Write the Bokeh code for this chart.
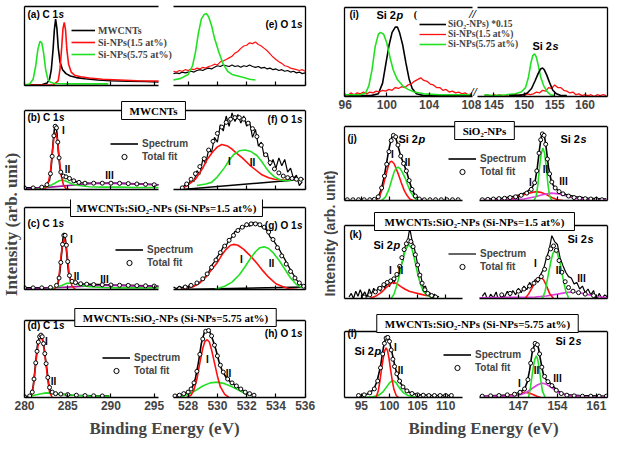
import math
from bokeh.plotting import figure
from bokeh.models import Range1d, LinearAxis, FixedTicker, Label, Legend, LegendItem, Span
from bokeh.layouts import row, column
from bokeh.embed import file_html
from bokeh.resources import INLINE
from bokeh.core.properties import value

# ------------------------------------------------------------------ data
C1S_TICKS = [280, 285, 290, 295]
O1S_TICKS = [528, 530, 532, 534, 536]
SI2P_TICKS_I = [96, 100, 104, 108]
SI2S_TICKS_I = [145, 150, 155, 160]
SI2P_TICKS = [95, 100, 105, 110]
SI2S_TICKS = [147, 154, 161]

# (a) C 1s comparison
A_MW_X = [280.0, 282.0, 282.6, 282.9, 283.1, 283.3, 283.45, 283.6, 283.75, 283.9, 284.1, 284.4, 284.8, 285.3, 286.0, 287.0, 288.5, 290.0, 292.0, 294.0, 295.5]
A_MW_Y = [0.01, 0.01, 0.03, 0.08, 0.2, 0.45, 0.7, 0.84, 0.72, 0.48, 0.3, 0.2, 0.15, 0.12, 0.1, 0.085, 0.07, 0.06, 0.055, 0.05, 0.045]
A_S15_X = [280.0, 283.4, 283.9, 284.1, 284.3, 284.45, 284.6, 284.75, 284.9, 285.1, 285.4, 285.8, 286.5, 287.5, 289.0, 291.0, 293.0, 295.5]
A_S15_Y = [0.005, 0.01, 0.06, 0.2, 0.48, 0.72, 0.8, 0.7, 0.45, 0.27, 0.17, 0.13, 0.11, 0.095, 0.08, 0.07, 0.06, 0.055]
A_S575_X = [280.0, 280.6, 281.0, 281.3, 281.55, 281.8, 282.0, 282.2, 282.45, 282.7, 283.0, 283.5, 285.0, 287.5, 289.7]
A_S575_Y = [0.01, 0.02, 0.08, 0.25, 0.46, 0.56, 0.54, 0.42, 0.2, 0.08, 0.04, 0.025, 0.02, 0.02, 0.02]

# (e) O 1s comparison
O_GRID = [527.0, 527.2, 527.4, 527.6, 527.8, 528.0, 528.2, 528.4, 528.6, 528.8, 529.0, 529.2, 529.4, 529.6, 529.8,
          530.0, 530.2, 530.4, 530.6, 530.8, 531.0, 531.2, 531.4, 531.6, 531.8, 532.0, 532.2, 532.4, 532.6, 532.8,
          533.0, 533.2, 533.4, 533.6, 533.8, 534.0, 534.2, 534.4, 534.6, 534.8, 535.0, 535.2, 535.4, 535.6, 535.8, 536.0]
E_MW_Y = [0.15, 0.16, 0.15, 0.17, 0.16, 0.17, 0.18, 0.17, 0.19, 0.2, 0.19, 0.21, 0.22, 0.21, 0.23,
          0.25, 0.24, 0.26, 0.25, 0.24, 0.26, 0.24, 0.25, 0.23, 0.25, 0.24, 0.26, 0.24, 0.23, 0.24,
          0.22, 0.23, 0.21, 0.22, 0.2, 0.21, 0.19, 0.2, 0.18, 0.19, 0.17, 0.18, 0.16, 0.17, 0.15, 0.16]
E_S15_Y = [0.18, 0.17, 0.19, 0.18, 0.2, 0.19, 0.21, 0.2, 0.22, 0.21, 0.23, 0.22, 0.24, 0.25, 0.27,
           0.26, 0.3, 0.31, 0.33, 0.35, 0.37, 0.41, 0.43, 0.47, 0.5, 0.51, 0.54, 0.53, 0.55, 0.52,
           0.5, 0.47, 0.44, 0.4, 0.36, 0.33, 0.3, 0.28, 0.25, 0.24, 0.22, 0.21, 0.2, 0.19, 0.2, 0.18]
E_S575_X = [527.0, 527.5, 528.0, 528.3, 528.5, 528.7, 528.9, 529.1, 529.25, 529.4, 529.6, 529.8, 530.1, 530.4, 530.7, 531.0, 531.4, 531.8, 532.2, 532.6]
E_S575_Y = [0.07, 0.09, 0.14, 0.25, 0.42, 0.66, 0.84, 0.9, 0.91, 0.87, 0.76, 0.6, 0.42, 0.27, 0.18, 0.14, 0.12, 0.1, 0.08, 0.07]

# (b) MWCNTs C 1s
B_SPEC_X = [280.0, 281.5, 282.4, 282.9, 283.1, 283.3, 283.45, 283.6, 283.75, 283.9, 284.1, 284.4, 284.7, 285.0, 285.4, 285.9, 286.5, 287.5, 289.0, 290.5, 292.0, 293.5, 295.5]
B_SPEC_Y = [0.02, 0.02, 0.04, 0.12, 0.3, 0.58, 0.76, 0.82, 0.72, 0.5, 0.27, 0.17, 0.16, 0.15, 0.13, 0.1, 0.085, 0.08, 0.08, 0.08, 0.075, 0.07, 0.06]
B_FIT_X = [280.0, 281.0, 282.0, 282.6, 283.0, 283.2, 283.4, 283.55, 283.7, 283.85, 284.0, 284.2, 284.5, 284.8, 285.2, 285.7, 286.3, 287.0, 288.0, 289.0, 290.0, 291.0, 292.0, 293.0, 294.0, 295.0]
B_FIT_Y = [0.02, 0.02, 0.03, 0.06, 0.2, 0.42, 0.68, 0.8, 0.78, 0.6, 0.4, 0.22, 0.17, 0.16, 0.14, 0.11, 0.09, 0.08, 0.08, 0.08, 0.08, 0.078, 0.075, 0.07, 0.065, 0.06]
B_I_X = [282.3, 282.7, 283.0, 283.2, 283.4, 283.6, 283.8, 284.0, 284.2, 284.5, 284.8, 285.2]
B_I_Y = [0.0, 0.06, 0.22, 0.45, 0.66, 0.72, 0.64, 0.42, 0.2, 0.06, 0.01, 0.0]
B_II_X = [281.0, 282.0, 282.8, 283.5, 284.0, 284.4, 284.9, 285.5, 286.3, 287.5, 289.0, 291.0, 293.0, 295.5]
B_II_Y = [0.0, 0.01, 0.04, 0.08, 0.11, 0.12, 0.1, 0.07, 0.05, 0.035, 0.03, 0.03, 0.025, 0.025]
B_III_X = [280.0, 282.0, 284.0, 286.0, 288.0, 289.5, 291.0, 293.0, 295.5]
B_III_Y = [0.005, 0.02, 0.04, 0.06, 0.075, 0.08, 0.078, 0.07, 0.06]

# (f) MWCNTs O 1s
F_GRID = [527.6, 527.8, 528.0, 528.2, 528.4, 528.6, 528.8, 529.0, 529.2, 529.4, 529.6, 529.8, 530.0, 530.2,
          530.4, 530.6, 530.8, 531.0, 531.2, 531.4, 531.6, 531.8, 532.0, 532.2, 532.4, 532.6, 532.8, 533.0,
          533.2, 533.4, 533.6, 533.8, 534.0, 534.2, 534.4, 534.6, 534.8, 535.0, 535.2, 535.4, 535.6, 535.8]
F_SPEC_Y = [0.02, 0.06, 0.05, 0.14, 0.1, 0.24, 0.19, 0.38, 0.33, 0.5, 0.47, 0.66, 0.6, 0.82,
            0.74, 0.93, 0.8, 0.97, 0.86, 0.95, 0.84, 0.93, 0.8, 0.86, 0.66, 0.76, 0.55, 0.6,
            0.42, 0.46, 0.3, 0.38, 0.27, 0.4, 0.3, 0.38, 0.22, 0.27, 0.14, 0.18, 0.05, 0.1]
F_FIT_X = [527.6, 527.9, 528.2, 528.5, 528.8, 529.1, 529.4, 529.7, 530.0, 530.3, 530.6, 530.9, 531.2, 531.5,
           531.8, 532.1, 532.4, 532.7, 533.0, 533.3, 533.6, 533.9, 534.2, 534.5, 534.8, 535.1, 535.4, 535.7]
F_FIT_Y = [0.02, 0.07, 0.13, 0.2, 0.29, 0.39, 0.5, 0.61, 0.71, 0.79, 0.85, 0.89, 0.91, 0.91,
           0.89, 0.84, 0.77, 0.67, 0.56, 0.44, 0.34, 0.26, 0.21, 0.17, 0.15, 0.14, 0.13, 0.13]
F_I_X = [527.6, 528.0, 528.5, 529.0, 529.3, 529.7, 530.0, 530.3, 530.7, 531.0, 531.3, 531.7, 532.2, 532.6, 533.0, 533.5, 533.9, 534.5, 535.0, 535.6]
F_I_Y = [0.01, 0.06, 0.13, 0.27, 0.38, 0.48, 0.54, 0.57, 0.55, 0.51, 0.46, 0.4, 0.31, 0.25, 0.19, 0.15, 0.13, 0.12, 0.12, 0.12]
F_II_X = [528.6, 529.2, 529.6, 530.0, 530.5, 530.8, 531.1, 531.5, 531.9, 532.3, 532.7, 533.0, 533.3, 533.6, 533.9, 534.3, 534.8, 535.2, 535.6]
F_II_Y = [0.05, 0.07, 0.09, 0.16, 0.28, 0.37, 0.44, 0.49, 0.5, 0.48, 0.43, 0.36, 0.28, 0.21, 0.16, 0.12, 0.11, 0.12, 0.125]
F_BG_X = [527.6, 535.9]
F_BG_Y = [0.0, 0.13]

# (c) Si-NPs 1.5 at% C 1s
C_SPEC_X = [280.0, 282.0, 283.5, 283.9, 284.1, 284.3, 284.45, 284.6, 284.75, 284.9, 285.1, 285.35, 285.7, 286.2, 287.0, 288.5, 290.0, 292.0, 294.0, 295.5]
C_SPEC_Y = [0.02, 0.02, 0.025, 0.08, 0.22, 0.45, 0.62, 0.69, 0.6, 0.42, 0.2, 0.11, 0.09, 0.075, 0.065, 0.06, 0.055, 0.05, 0.045, 0.04]
C_FIT_X = [280.0, 281.0, 282.0, 283.0, 283.7, 284.0, 284.2, 284.4, 284.55, 284.7, 284.85, 285.0, 285.2, 285.5, 285.9, 286.5, 287.2, 288.0, 289.0, 290.0, 291.0, 292.0, 293.0, 294.0, 295.0]
C_FIT_Y = [0.02, 0.02, 0.02, 0.025, 0.05, 0.14, 0.33, 0.55, 0.66, 0.66, 0.54, 0.34, 0.17, 0.1, 0.085, 0.07, 0.065, 0.06, 0.058, 0.055, 0.052, 0.05, 0.047, 0.045, 0.042]
C_I_X = [283.4, 283.8, 284.0, 284.2, 284.4, 284.6, 284.8, 285.0, 285.2, 285.5, 285.9]
C_I_Y = [0.0, 0.05, 0.17, 0.38, 0.56, 0.62, 0.55, 0.36, 0.16, 0.04, 0.0]
C_II_X = [282.5, 283.5, 284.3, 284.9, 285.4, 285.9, 286.5, 287.5, 289.0, 291.0, 293.0, 295.5]
C_II_Y = [0.0, 0.02, 0.05, 0.075, 0.08, 0.07, 0.05, 0.035, 0.025, 0.02, 0.02, 0.02]
C_III_X = [280.0, 282.0, 284.0, 286.0, 288.0, 289.5, 291.0, 293.0, 295.5]
C_III_Y = [0.005, 0.015, 0.025, 0.035, 0.045, 0.05, 0.048, 0.042, 0.035]

# (g) Si-NPs 1.5 at% O 1s
G_SPEC_Y = [0.03, 0.01, 0.04, 0.02, 0.05, 0.03, 0.06, 0.04, 0.08, 0.09, 0.13, 0.16, 0.21, 0.29, 0.34,
            0.4, 0.45, 0.52, 0.54, 0.6, 0.64, 0.71, 0.7, 0.76, 0.75, 0.81, 0.77, 0.82, 0.8, 0.81,
            0.77, 0.75, 0.72, 0.64, 0.61, 0.55, 0.5, 0.43, 0.37, 0.3, 0.24, 0.18, 0.12, 0.08, 0.05, 0.04]
G_FIT_X = [527.4, 527.8, 528.2, 528.6, 529.0, 529.3, 529.6, 529.9, 530.2, 530.5, 530.8, 531.1, 531.4, 531.7,
           532.0, 532.3, 532.6, 532.9, 533.2, 533.5, 533.8, 534.1, 534.4, 534.7, 535.0, 535.3, 535.6, 535.9]
G_FIT_Y = [0.01, 0.03, 0.05, 0.08, 0.13, 0.19, 0.27, 0.36, 0.45, 0.53, 0.6, 0.66, 0.72, 0.76,
           0.79, 0.8, 0.8, 0.79, 0.76, 0.7, 0.61, 0.51, 0.41, 0.31, 0.22, 0.14, 0.08, 0.04]
G_I_X = [527.5, 528.3, 528.8, 529.2, 529.6, 530.0, 530.3, 530.6, 530.9, 531.1, 531.4, 531.8, 532.2, 532.7, 533.1, 533.5, 534.0, 534.4, 534.9, 535.5]
G_I_Y = [0.0, 0.03, 0.08, 0.15, 0.24, 0.33, 0.42, 0.49, 0.54, 0.55, 0.54, 0.49, 0.42, 0.32, 0.23, 0.15, 0.07, 0.04, 0.01, 0.0]
G_II_X = [529.8, 530.5, 531.0, 531.5, 531.9, 532.3, 532.6, 532.9, 533.2, 533.5, 533.8, 534.2, 534.6, 535.0, 535.4, 535.8]
G_II_Y = [0.0, 0.04, 0.09, 0.18, 0.28, 0.39, 0.46, 0.51, 0.52, 0.5, 0.45, 0.36, 0.25, 0.14, 0.06, 0.02]
G_BG_X = [527.4, 536.0]
G_BG_Y = [0.0, 0.03]

# (d) Si-NPs 5.75 at% C 1s
D_SPEC_X = [280.0, 280.5, 280.8, 281.0, 281.2, 281.35, 281.5, 281.7, 281.9, 282.1, 282.3, 282.45, 282.6, 282.8, 283.0, 283.3, 283.8, 284.5, 285.5, 287.0, 288.5, 289.8]
D_SPEC_Y = [0.01, 0.015, 0.04, 0.14, 0.35, 0.52, 0.68, 0.78, 0.8, 0.75, 0.62, 0.48, 0.36, 0.18, 0.09, 0.055, 0.045, 0.04, 0.03, 0.025, 0.02, 0.02]
D_FIT_X = [280.0, 280.6, 280.9, 281.1, 281.3, 281.45, 281.6, 281.75, 281.9, 282.05, 282.2, 282.35, 282.5, 282.7, 282.9, 283.2, 283.6, 284.2, 285.0, 286.0, 287.0, 288.0, 289.0]
D_FIT_Y = [0.01, 0.02, 0.07, 0.24, 0.45, 0.6, 0.72, 0.79, 0.81, 0.79, 0.7, 0.57, 0.44, 0.26, 0.13, 0.07, 0.05, 0.045, 0.038, 0.03, 0.025, 0.022, 0.02]
D_I_X = [280.5, 280.8, 281.0, 281.2, 281.4, 281.6, 281.8, 281.95, 282.1, 282.3, 282.5, 282.7, 282.9, 283.2]
D_I_Y = [0.0, 0.03, 0.12, 0.32, 0.54, 0.7, 0.77, 0.78, 0.74, 0.6, 0.42, 0.22, 0.07, 0.0]
D_II_X = [280.3, 281.0, 281.8, 282.5, 283.2, 284.0, 285.0, 286.0, 287.5, 289.8]
D_II_Y = [0.0, 0.025, 0.045, 0.06, 0.055, 0.045, 0.035, 0.025, 0.02, 0.015]

# (h) Si-NPs 5.75 at% O 1s
H_SPEC_X = [527.0, 527.5, 528.0, 528.3, 528.5, 528.7, 528.9, 529.1, 529.3, 529.5, 529.7, 529.9, 530.1, 530.3, 530.6, 530.9, 531.2, 531.5, 531.9, 532.3, 532.6]
H_SPEC_Y = [0.02, 0.03, 0.07, 0.14, 0.25, 0.45, 0.7, 0.84, 0.88, 0.84, 0.74, 0.62, 0.47, 0.36, 0.26, 0.2, 0.16, 0.12, 0.07, 0.04, 0.02]
H_FIT_X = [527.1, 527.4, 527.7, 528.0, 528.2, 528.4, 528.6, 528.8, 529.0, 529.2, 529.4, 529.6, 529.8, 530.0, 530.2, 530.4, 530.7, 531.0, 531.3, 531.6, 531.9, 532.2, 532.5]
H_FIT_Y = [0.02, 0.03, 0.05, 0.07, 0.11, 0.19, 0.34, 0.56, 0.76, 0.86, 0.87, 0.8, 0.68, 0.54, 0.42, 0.33, 0.24, 0.19, 0.15, 0.11, 0.07, 0.05, 0.03]
H_I_X = [527.9, 528.2, 528.4, 528.6, 528.8, 529.0, 529.15, 529.3, 529.45, 529.6, 529.8, 530.0, 530.2, 530.5, 530.8]
H_I_Y = [0.0, 0.03, 0.1, 0.24, 0.45, 0.64, 0.73, 0.75, 0.72, 0.62, 0.45, 0.28, 0.14, 0.04, 0.0]
H_II_X = [527.4, 528.0, 528.5, 529.0, 529.5, 530.0, 530.5, 531.0, 531.5, 532.0, 532.6]
H_II_Y = [0.0, 0.04, 0.09, 0.15, 0.19, 0.2, 0.18, 0.14, 0.09, 0.04, 0.01]

# (i) Si 2p / Si 2s comparison
I2P_MW_X = [96.0, 98.5, 99.2, 99.6, 99.9, 100.2, 100.5, 100.8, 101.0, 101.2, 101.5, 101.8, 102.1, 102.4, 102.8, 103.5, 105.0, 108.0]
I2P_MW_Y = [0.01, 0.01, 0.03, 0.15, 0.36, 0.57, 0.72, 0.78, 0.78, 0.72, 0.58, 0.38, 0.2, 0.09, 0.03, 0.01, 0.01, 0.01]
I2P_S575_X = [96.0, 97.5, 98.0, 98.3, 98.6, 98.9, 99.2, 99.4, 99.7, 100.0, 100.3, 100.6, 101.0, 101.5, 102.0, 102.6, 103.5, 105.0, 108.0]
I2P_S575_Y = [0.02, 0.02, 0.04, 0.12, 0.3, 0.56, 0.7, 0.72, 0.7, 0.6, 0.44, 0.3, 0.19, 0.12, 0.08, 0.05, 0.03, 0.02, 0.02]
I2P_GRID = [96.0, 96.3, 96.6, 96.9, 97.2, 97.5, 97.8, 98.1, 98.4, 98.7, 99.0, 99.3, 99.6, 99.9, 100.2, 100.5, 100.8,
            101.1, 101.4, 101.7, 102.0, 102.3, 102.6, 102.9, 103.2, 103.5, 103.8, 104.1, 104.4, 104.7, 105.0,
            105.3, 105.6, 105.9, 106.2, 106.5, 106.8, 107.1, 107.4, 107.7, 108.0]
I2P_S15_Y = [0.03, 0.01, 0.04, 0.02, 0.04, 0.03, 0.05, 0.03, 0.05, 0.04, 0.06, 0.05, 0.07, 0.06, 0.08, 0.07, 0.1,
             0.09, 0.11, 0.1, 0.13, 0.14, 0.17, 0.19, 0.21, 0.18, 0.17, 0.14, 0.13, 0.1, 0.1,
             0.07, 0.08, 0.05, 0.06, 0.04, 0.05, 0.03, 0.04, 0.02, 0.03]
I2S_MW_X = [147.5, 149.5, 150.5, 151.2, 151.8, 152.3, 152.7, 153.0, 153.3, 153.7, 154.2, 154.7, 155.3, 156.0, 157.0]
I2S_MW_Y = [0.01, 0.015, 0.04, 0.09, 0.18, 0.26, 0.31, 0.32, 0.3, 0.24, 0.15, 0.07, 0.03, 0.01, 0.01]
I2S_S575_X = [143.4, 145.0, 147.0, 148.5, 149.5, 150.2, 150.7, 151.1, 151.4, 151.7, 152.0, 152.3, 152.7, 153.2, 153.7, 154.3, 155.0]
I2S_S575_Y = [0.02, 0.01, 0.02, 0.03, 0.05, 0.1, 0.22, 0.38, 0.46, 0.48, 0.44, 0.35, 0.22, 0.12, 0.06, 0.02, 0.01]
I2S_GRID = [143.5, 144.0, 144.5, 145.0, 145.5, 146.0, 146.5, 147.0, 147.5, 148.0, 148.5, 149.0, 149.5, 150.0,
            150.5, 151.0, 151.5, 152.0, 152.5, 153.0, 153.5, 154.0, 154.5, 155.0, 155.5, 156.0, 156.5, 157.0,
            157.5, 158.0, 158.5, 159.0, 159.5, 160.0, 160.5, 161.0, 161.5, 162.0, 162.5, 163.0, 163.5]
I2S_S15_Y = [0.01, 0.02, 0.0, 0.02, 0.01, 0.02, 0.0, 0.01, 0.02, 0.01, 0.02, 0.01, 0.02, 0.01,
             0.03, 0.02, 0.03, 0.05, 0.04, 0.07, 0.06, 0.1, 0.09, 0.13, 0.1, 0.1, 0.07, 0.06,
             0.04, 0.05, 0.02, 0.03, 0.01, 0.02, 0.01, 0.02, 0.0, 0.02, 0.01, 0.02, 0.01]

# (j) SiO2-NPs
J2P_SPEC_X = [97.0, 97.5, 98.0, 98.5, 99.0, 99.4, 99.8, 100.2, 100.5, 100.8, 101.1, 101.5, 102.0, 102.5, 103.0, 103.5, 104.0, 104.6, 105.2, 106.0]
J2P_SPEC_Y = [0.01, 0.02, 0.05, 0.14, 0.3, 0.47, 0.65, 0.8, 0.87, 0.89, 0.85, 0.74, 0.6, 0.5, 0.4, 0.27, 0.15, 0.06, 0.02, 0.01]
J2P_FIT_X = [92.5, 93.5, 94.5, 95.5, 96.5, 97.3, 98.0, 98.6, 99.1, 99.5, 99.9, 100.3, 100.7, 101.1, 101.5, 102.0, 102.5, 103.0,
             103.5, 104.0, 104.6, 105.3, 106.2, 107.2, 108.2, 109.2, 110.2, 111.2, 112.2]
J2P_FIT_Y = [0.01, 0.01, 0.01, 0.01, 0.01, 0.015, 0.05, 0.17, 0.33, 0.49, 0.66, 0.81, 0.88, 0.86, 0.75, 0.6, 0.5, 0.4,
             0.27, 0.15, 0.06, 0.02, 0.01, 0.01, 0.01, 0.01, 0.01, 0.01, 0.01]
J2P_I_X = [97.5, 98.2, 98.8, 99.3, 99.8, 100.1, 100.4, 100.8, 101.2, 101.6, 102.1, 102.6, 103.1, 103.6, 104.2]
J2P_I_Y = [0.0, 0.05, 0.17, 0.33, 0.47, 0.52, 0.53, 0.5, 0.43, 0.35, 0.24, 0.14, 0.07, 0.02, 0.0]
J2P_II_X = [98.6, 99.3, 99.9, 100.4, 100.8, 101.2, 101.5, 101.9, 102.3, 102.8, 103.3, 103.8, 104.4, 105.0]
J2P_II_Y = [0.0, 0.05, 0.15, 0.28, 0.38, 0.44, 0.45, 0.43, 0.38, 0.3, 0.2, 0.11, 0.04, 0.0]
J2S_SPEC_X = [140.3, 142.0, 144.0, 145.9, 147.5, 148.6, 149.5, 150.0, 150.4, 150.8, 151.1, 151.4, 151.7, 152.0, 152.4, 152.9, 153.5, 154.4, 155.5, 157.2, 159.5, 162.8]
J2S_SPEC_Y = [0.01, 0.02, 0.03, 0.05, 0.08, 0.12, 0.18, 0.26, 0.45, 0.7, 0.86, 0.92, 0.86, 0.7, 0.45, 0.26, 0.17, 0.12, 0.08, 0.05, 0.03, 0.02]
J2S_FIT_X = [140.5, 141.5, 142.5, 143.5, 144.5, 145.5, 146.5, 147.5, 148.5, 149.3, 149.9, 150.3, 150.7, 151.0, 151.3,
             151.6, 151.9, 152.2, 152.6, 153.0, 153.6, 154.3, 155.0, 156.0, 157.0, 158.0, 159.0, 160.0, 161.0, 162.0]
J2S_FIT_Y = [0.01, 0.015, 0.02, 0.025, 0.03, 0.04, 0.05, 0.07, 0.1, 0.15, 0.24, 0.4, 0.64, 0.82, 0.9,
             0.88, 0.76, 0.56, 0.36, 0.25, 0.17, 0.12, 0.09, 0.06, 0.04, 0.03, 0.025, 0.02, 0.015, 0.01]
J2S_I_X = [143.5, 145.5, 147.0, 148.5, 149.5, 150.2, 151.0, 152.0, 153.0, 154.0, 155.0]
J2S_I_Y = [0.0, 0.02, 0.05, 0.09, 0.11, 0.12, 0.11, 0.08, 0.04, 0.01, 0.0]
J2S_II_X = [149.8, 150.2, 150.5, 150.8, 151.1, 151.4, 151.7, 152.0, 152.3, 152.6, 153.0]
J2S_II_Y = [0.0, 0.06, 0.22, 0.45, 0.64, 0.71, 0.64, 0.45, 0.22, 0.06, 0.0]
J2S_III_X = [140.3, 145.0, 148.0, 150.0, 151.5, 152.9, 154.2, 155.6, 157.0, 159.0, 162.8]
J2S_III_Y = [0.01, 0.01, 0.02, 0.05, 0.08, 0.1, 0.09, 0.06, 0.03, 0.015, 0.01]

# (k) Si-NPs 1.5 at%
K2P_GRID = [92.8, 93.2, 93.6, 94.0, 94.4, 94.8, 95.2, 95.6, 96.0, 96.4, 96.8, 97.2, 97.6, 98.0, 98.4, 98.8, 99.2,
            99.6, 100.0, 100.4, 100.8, 101.2, 101.6, 102.0, 102.4, 102.8, 103.2, 103.6, 104.0, 104.4, 104.8,
            105.2, 105.6, 106.0, 106.4, 106.8, 107.2, 107.6, 108.0, 108.4, 108.8]
K2P_SPEC_Y = [0.02, 0.07, 0.0, 0.1, 0.03, 0.12, 0.04, 0.09, 0.02, 0.13, 0.06, 0.14, 0.07, 0.16, 0.1, 0.2, 0.13,
              0.22, 0.16, 0.27, 0.2, 0.32, 0.3, 0.45, 0.52, 0.72, 0.78, 0.96, 0.8, 0.7, 0.55,
              0.38, 0.3, 0.15, 0.17, 0.05, 0.08, 0.02, 0.06, 0.01, 0.03]
K2P_FIT_X = [95.5, 96.5, 97.5, 98.3, 99.0, 99.6, 100.2, 100.8, 101.3, 101.8, 102.2, 102.6, 103.0, 103.4, 103.8, 104.2,
             104.6, 105.0, 105.4, 105.8, 106.3, 106.8, 107.5, 108.2]
K2P_FIT_Y = [0.02, 0.05, 0.09, 0.14, 0.19, 0.22, 0.24, 0.27, 0.33, 0.44, 0.56, 0.67, 0.75, 0.79, 0.78, 0.71,
             0.6, 0.46, 0.32, 0.21, 0.12, 0.07, 0.04, 0.02]
K2P_I_X = [96.5, 97.5, 98.5, 99.3, 100.0, 100.6, 101.2, 101.9, 102.7, 103.5, 104.5, 105.5, 106.5, 107.5, 108.5]
K2P_I_Y = [0.0, 0.03, 0.08, 0.14, 0.19, 0.22, 0.21, 0.17, 0.13, 0.1, 0.08, 0.06, 0.04, 0.03, 0.02]
K2P_II_X = [100.3, 100.8, 101.3, 101.8, 102.3, 102.8, 103.4, 104.0, 104.5, 105.0, 105.5, 106.0, 106.6, 107.3, 108.2, 108.7]
K2P_II_Y = [0.0, 0.06, 0.18, 0.33, 0.52, 0.66, 0.74, 0.68, 0.52, 0.34, 0.2, 0.1, 0.05, 0.02, 0.01, 0.01]
K2S_GRID = [140.5, 141.0, 141.5, 142.0, 142.5, 143.0, 143.5, 144.0, 144.5, 145.0, 145.5, 146.0, 146.5, 147.0, 147.5,
            148.0, 148.5, 149.0, 149.5, 150.0, 150.5, 151.0, 151.5, 152.0, 152.5, 153.0, 153.5, 154.0, 154.5, 155.0,
            155.5, 156.0, 156.5, 157.0, 157.5, 158.0, 158.5, 159.0, 159.5, 160.0, 160.5, 161.0, 161.5, 162.0, 162.5, 163.0]
K2S_SPEC_Y = [0.03, 0.08, -0.03, 0.06, 0.01, 0.09, -0.05, 0.07, 0.02, 0.1, 0.03, 0.11, 0.05, 0.14, 0.08,
              0.17, 0.12, 0.22, 0.16, 0.26, 0.22, 0.33, 0.4, 0.55, 0.66, 0.86, 0.78, 0.74, 0.55, 0.45,
              0.36, 0.3, 0.28, 0.2, 0.22, 0.13, 0.17, 0.08, 0.13, 0.05, 0.11, -0.04, 0.07, 0.0, 0.05, 0.02]
K2S_FIT_X = [144.0, 145.5, 147.0, 148.0, 149.0, 149.8, 150.5, 151.1, 151.7, 152.3, 152.8, 153.3, 153.8, 154.3, 154.8,
             155.4, 156.0, 156.8, 157.8, 159.0, 160.5]
K2S_FIT_Y = [0.05, 0.07, 0.1, 0.13, 0.17, 0.21, 0.26, 0.3, 0.4, 0.56, 0.68, 0.72, 0.66, 0.52, 0.36,
             0.23, 0.15, 0.1, 0.08, 0.06, 0.04]
K2S_I_X = [148.2, 148.8, 149.4, 150.0, 150.5, 151.0, 151.5, 152.0, 152.6, 153.3]
K2S_I_Y = [0.0, 0.06, 0.14, 0.23, 0.28, 0.29, 0.26, 0.18, 0.07, 0.0]
K2S_II_X = [151.3, 151.8, 152.3, 152.8, 153.2, 153.6, 154.0, 154.5, 155.0, 155.5, 156.0]
K2S_II_Y = [0.0, 0.1, 0.3, 0.5, 0.62, 0.66, 0.62, 0.48, 0.28, 0.1, 0.01]
K2S_III_X = [140.0, 145.0, 150.0, 152.0, 154.0, 155.5, 156.5, 157.5, 158.5, 160.0, 161.5, 163.0]
K2S_III_Y = [0.01, 0.015, 0.02, 0.035, 0.06, 0.08, 0.09, 0.085, 0.07, 0.045, 0.025, 0.01]

# (l) Si-NPs 5.75 at%
L2P_SPEC_X = [94.9, 96.0, 97.2, 97.8, 98.4, 98.9, 99.3, 99.6, 99.9, 100.4, 100.9, 101.3, 101.8, 102.4, 103.2, 104.1, 105.5, 107.6, 109.5, 111.0]
L2P_SPEC_Y = [0.03, 0.05, 0.12, 0.25, 0.47, 0.75, 0.9, 0.93, 0.88, 0.7, 0.5, 0.36, 0.24, 0.16, 0.09, 0.06, 0.04, 0.03, 0.03, 0.03]
L2P_FIT_X = [94.5, 95.5, 96.5, 97.3, 97.9, 98.4, 98.8, 99.1, 99.4, 99.7, 100.0, 100.3, 100.6, 100.9, 101.3, 101.8, 102.4,
             103.1, 104.0, 105.0, 106.0, 107.0, 108.0, 109.0, 110.0, 111.0]
L2P_FIT_Y = [0.03, 0.04, 0.07, 0.13, 0.25, 0.45, 0.66, 0.82, 0.9, 0.91, 0.85, 0.72, 0.58, 0.47, 0.36, 0.25, 0.16,
             0.1, 0.06, 0.04, 0.035, 0.03, 0.03, 0.03, 0.03, 0.03]
L2P_I_X = [97.6, 98.0, 98.3, 98.6, 98.9, 99.15, 99.4, 99.65, 99.9, 100.2, 100.5, 100.8, 101.2, 101.6]
L2P_I_Y = [0.0, 0.1, 0.25, 0.44, 0.6, 0.71, 0.75, 0.71, 0.6, 0.42, 0.25, 0.12, 0.03, 0.0]
L2P_II_X = [95.5, 97.0, 98.0, 98.8, 99.4, 100.0, 100.6, 101.2, 101.8, 102.5, 103.3, 104.2, 105.0]
L2P_II_Y = [0.0, 0.01, 0.03, 0.08, 0.15, 0.22, 0.26, 0.22, 0.14, 0.07, 0.03, 0.01, 0.0]
L2S_SPEC_X = [140.3, 143.0, 145.9, 147.3, 148.1, 148.6, 149.0, 149.5, 149.9, 150.2, 150.6, 150.9, 151.3, 151.6, 152.2, 152.8, 153.8, 154.6, 155.5, 158.0, 162.9]
L2S_SPEC_Y = [0.02, 0.03, 0.04, 0.08, 0.13, 0.24, 0.41, 0.7, 0.8, 0.82, 0.75, 0.6, 0.42, 0.31, 0.25, 0.21, 0.12, 0.07, 0.04, 0.03, 0.02]
L2S_FIT_X = [140.5, 142.0, 143.5, 145.0, 146.3, 147.3, 148.1, 148.7, 149.2, 149.6, 150.0, 150.4, 150.8, 151.2, 151.7,
             152.3, 153.0, 153.8, 154.7, 155.7, 157.0, 158.5, 160.0, 161.5, 162.8]
L2S_FIT_Y = [0.02, 0.025, 0.03, 0.04, 0.05, 0.08, 0.13, 0.27, 0.52, 0.72, 0.82, 0.8, 0.66, 0.46, 0.32,
             0.24, 0.18, 0.11, 0.06, 0.035, 0.025, 0.02, 0.02, 0.02, 0.02]
L2S_I_X = [143.5, 145.0, 146.5, 147.5, 148.1, 148.8, 149.5, 150.3, 151.0]
L2S_I_Y = [0.0, 0.02, 0.05, 0.07, 0.08, 0.07, 0.05, 0.02, 0.0]
L2S_II_X = [148.8, 149.1, 149.4, 149.7, 149.95, 150.2, 150.45, 150.7, 151.0, 151.3, 151.8]
L2S_II_Y = [0.0, 0.12, 0.3, 0.48, 0.58, 0.63, 0.58, 0.46, 0.27, 0.1, 0.0]
L2S_III_X = [140.0, 144.0, 146.0, 147.5, 148.5, 149.5, 150.4, 151.2, 152.0, 152.8, 153.6, 154.5, 156.0, 159.0, 163.0]
L2S_III_Y = [0.02, 0.02, 0.025, 0.045, 0.08, 0.14, 0.19, 0.22, 0.2, 0.16, 0.11, 0.06, 0.025, 0.015, 0.01]

# ------------------------------------------------------------------ layout helpers
SX = 611 / 627
SY = 438 / 454
LEG_DY = 9          # empirical offset of Bokeh legend boxes


def X(v):
    return int(round(v * SX))


def Y(v):
    return int(round(v * SY))


SANS = "Liberation Sans"
SERIF = "Liberation Serif"
RED = "#ff1010"
GREEN = "#22e022"
PURPLE = "#a0189f"
MAGENTA = "#e03ce0"
BLACK = "#000000"

AB = {'(': .333, ')': .333, ' ': .278, 'a': .556, 'b': .611, 'c': .556, 'd': .611, 'e': .556, 'f': .333,
      'g': .611, 'h': .611, 'C': .722, 'O': .778, 'S': .667, 'i': .278, '1': .556, '2': .556}


def sans_w(s, size):
    return sum(AB.get(c, 0.6) for c in s) * size


class Pair:
    """One row of the figure: a left and a right sub-panel sharing one frame box."""

    def __init__(self, cx0, cx1, cy0, cy1, fx0, fx1, fy0, fy1, L, R, split_top=False, lticks=(), rticks=(),
                 ftop=None):
        self.fx0, self.fb = fx0, fy1
        W = X(cx1) - X(cx0)
        H = Y(cy1) - Y(cy0)
        fw = X(fx1) - X(fx0)
        a0, a1, lend = L
        b0, b1, rstart = R
        xr = Range1d(a0, a0 + (a1 - a0) * fw / (X(lend) - X(fx0)))
        rr = Range1d(b1 - (b1 - b0) * fw / (X(fx1) - X(rstart)), b1)
        self.xr, self.rr = xr, rr
        top = fy0 if ftop is None else ftop
        ytop = 1.0 + (Y(fy0) - Y(top)) / (Y(fy1) - Y(fy0))
        p = figure(width=W, height=H, x_range=xr, y_range=Range1d(0, ytop), title=None,
                   x_axis_type=None, y_axis_type=None, toolbar_location=None, output_backend="svg",
                   min_border_left=X(fx0) - X(cx0), min_border_right=X(cx1) - X(fx1),
                   min_border_top=Y(top) - Y(cy0), min_border_bottom=Y(cy1) - Y(fy1))
        p.extra_x_ranges = {"r": rr}
        p.outline_line_color = None
        p.background_fill_color = None
        p.border_fill_color = None
        self.p = p
        self._axis("left", ybounds=(0, 1))
        self._axis("right", ybounds=(0, 1))
        if ftop is not None:
            p.add_layout(Span(location=1, dimension="width", line_color="black", line_width=1.3))
        elif split_top:
            self._axis("above", bounds=(a0, a1))
            self._axis("above", rng="r", bounds=(b0, b1))
        else:
            self._axis("above")
        self._axis("below", bounds=(a0, a1), ticks=lticks, tick_in=4)
        self._axis("below", rng="r", bounds=(b0, b1), ticks=rticks, tick_in=4)

    def _axis(self, side, rng=None, bounds=None, ticks=(), tick_in=0, ybounds=None):
        kw = dict(ticker=FixedTicker(ticks=list(ticks), minor_ticks=[]), major_tick_in=tick_in, major_tick_out=0,
                  minor_tick_line_color=None, major_label_text_font_size="0px", major_label_text_color=None,
                  major_label_standoff=0, axis_line_color="black", axis_line_width=1.3,
                  major_tick_line_color="black", major_tick_line_width=1.2)
        if rng:
            kw["x_range_name"] = rng
        if bounds:
            kw["bounds"] = bounds
        if ybounds:
            kw["bounds"] = ybounds
        self.p.add_layout(LinearAxis(**kw), side)

    def line(self, x, y, color, width=1.6, right=False):
        kw = {"x_range_name": "r"} if right else {}
        return self.p.line(x, y, line_color=color, line_width=width, **kw)

    def fit(self, x, y, right=False):
        kw = {"x_range_name": "r"} if right else {}
        return self.p.scatter(x, y, marker="circle", size=4, fill_color="white", line_color="black",
                              line_width=1, **kw)

    def _lab(self, sx, sy, s, size, font, style, align="left", **kw):
        self.p.add_layout(Label(x=sx, y=sy, x_units="screen", y_units="screen", text=s, text_font=font,
                                text_font_size=f"{size}px", text_font_style=style, text_align=align,
                                text_baseline="middle", text_color="black", **kw))

    def text(self, x, y, s, size=10, font=SANS, style="bold", align="left", **kw):
        self._lab(X(x) - X(self.fx0), Y(self.fb) - Y(y), s, size, font, style, align, **kw)

    def text2(self, x, y, s1, s2, size=10, align="left"):
        w1 = sans_w(s1, size)
        w2 = sans_w(s2, size)
        sx = X(x) - X(self.fx0)
        if align == "right":
            sx -= (w1 + w2)
        elif align == "center":
            sx -= (w1 + w2) / 2
        sy = Y(self.fb) - Y(y)
        self._lab(sx, sy, s1, size, SANS, "bold")
        self._lab(sx + w1 + 0.5, sy, s2, size, SANS, "bold italic")

    def romans(self, items):
        for s, x, y in items:
            self.text(x, y, s, size=10, align="center")

    def box(self, x, y, s, pad=(7, 3)):
        self._lab(X(x) - X(self.fx0), Y(self.fb) - Y(y), s, 11, SERIF, "bold", "center",
                  background_fill_color="white", border_line_color="black", border_line_width=1, padding=pad)

    def legend(self, items, tx, ty, row_px, size, font, glyph_w, standoff):
        n = len(items)
        total = n * row_px + LEG_DY
        lg = Legend(items=[LegendItem(label=value(t), renderers=[r]) for t, r in items],
                    location=(X(tx) - X(self.fx0), Y(self.fb) - Y(ty) - total),
                    background_fill_alpha=0, border_line_color=None, padding=0, margin=0, spacing=0,
                    label_standoff=standoff, glyph_width=glyph_w, glyph_height=row_px, label_height=row_px,
                    label_text_font=font, label_text_font_style="bold", label_text_font_size=f"{size}px")
        self.p.add_layout(lg)

    def tick_labels(self, lt, rt, size=12):
        xr, rr = self.xr, self.rr
        k = (xr.end - xr.start) / (rr.end - rr.start)
        pos = [float(v) for v in lt] + [round(xr.start + (v - rr.start) * k, 6) for v in rt]
        ov = {pv: str(v) for pv, v in zip(pos, list(lt) + list(rt))}
        ax = LinearAxis(ticker=FixedTicker(ticks=pos, minor_ticks=[]), major_label_overrides=ov,
                        axis_line_color=None, major_tick_line_color=None, minor_tick_line_color=None,
                        major_tick_in=0, major_tick_out=0, major_label_standoff=3,
                        major_label_text_font=SANS, major_label_text_font_style="bold",
                        major_label_text_font_size=f"{size}px")
        self.p.add_layout(ax, "below")


def text_fig(cx0, cx1, cy0, cy1, tx, ty, text, font, size, angle=0.0, margin=None):
    W = X(cx1) - X(cx0)
    H = Y(cy1) - Y(cy0)
    p = figure(width=W, height=H, title=None, x_axis_type=None, y_axis_type=None, toolbar_location=None,
               output_backend="svg", min_border=0, x_range=Range1d(0, 1), y_range=Range1d(0, 1))
    p.outline_line_color = None
    p.background_fill_color = None
    p.border_fill_color = None
    p.add_layout(Label(x=X(tx) - X(cx0), y=H - (Y(ty) - Y(cy0)), x_units="screen", y_units="screen", text=text,
                       angle=angle, text_align="center", text_baseline="middle", text_font=font,
                       text_font_style="bold", text_font_size=f"{size}px"))
    if margin is not None:
        p.margin = margin
    return p


SPEC_LEG = dict(row_px=13, size=10, font=SANS, glyph_w=28, standoff=4)

# ------------------------------------------------------------------ left column
LC = (280.0, 295.5, 162)
RO = (527.0, 536.02, 178)

pa = Pair(14, 325, 0, 100, 25, 313, 6, 88, LC, RO, split_top=True, lticks=C1S_TICKS, rticks=O1S_TICKS)
ra1 = pa.line(A_MW_X, A_MW_Y, BLACK)
ra2 = pa.line(A_S15_X, A_S15_Y, RED)
ra3 = pa.line(A_S575_X, A_S575_Y, GREEN)
pa.line(O_GRID, E_MW_Y, BLACK, 1.2, right=True)
pa.line(O_GRID, E_S15_Y, RED, 1.2, right=True)
pa.line(E_S575_X, E_S575_Y, GREEN, right=True)
pa.text2(28, 14, "(a) C 1", "s")
pa.text2(310, 25, "(e) O 1", "s", align="right")
pa.legend([("MWCNTs", ra1), ("Si-NPs(1.5 at%)", ra2), ("Si-NPs(5.75 at%)", ra3)], 73, 16, 12, 10, SERIF, 24, 3)

pb = Pair(14, 325, 100, 205, 25, 313, 114, 196, LC, RO, lticks=C1S_TICKS, rticks=O1S_TICKS, ftop=101)
rb1 = pb.line(B_SPEC_X, B_SPEC_Y, BLACK)
pb.line(B_III_X, B_III_Y, PURPLE)
pb.line(B_II_X, B_II_Y, GREEN)
pb.line(B_I_X, B_I_Y, RED)
rb2 = pb.fit(B_FIT_X, B_FIT_Y)
pb.line(F_GRID, F_SPEC_Y, BLACK, 1.2, right=True)
pb.line(F_BG_X, F_BG_Y, BLACK, 1.4, right=True)
pb.line(F_I_X, F_I_Y, RED, right=True)
pb.line(F_II_X, F_II_Y, GREEN, right=True)
pb.fit(F_FIT_X, F_FIT_Y, right=True)
pb.box(157, 114, "MWCNTs", pad=(8, 3))
pb.text2(28, 121, "(b) C 1", "s")
pb.text2(310, 123, "(f) O 1", "s", align="right")
pb.romans([("I", 65, 135), ("II", 69, 175), ("III", 112, 181), ("I", 235, 167), ("II", 259, 168)])
pb.legend([("Spectrum", rb1), ("Total fit", rb2)], 113, 133, **SPEC_LEG)

pc = Pair(14, 325, 205, 314, 25, 313, 215, 300, LC, RO, lticks=C1S_TICKS, rticks=O1S_TICKS, ftop=206)
rc1 = pc.line(C_SPEC_X, C_SPEC_Y, BLACK)
pc.line(C_III_X, C_III_Y, PURPLE)
pc.line(C_II_X, C_II_Y, GREEN)
pc.line(C_I_X, C_I_Y, RED)
rc2 = pc.fit(C_FIT_X, C_FIT_Y)
pc.line(O_GRID, G_SPEC_Y, BLACK, 1.3, right=True)
pc.line(G_BG_X, G_BG_Y, BLACK, 1.4, right=True)
pc.line(G_I_X, G_I_Y, RED, right=True)
pc.line(G_II_X, G_II_Y, GREEN, right=True)
pc.fit(G_FIT_X, G_FIT_Y, right=True)
pc.box(170, 215, "MWCNTs:SiO\u2082-NPs (Si-NPs=1.5 at%)", pad=(6, 3))
pc.text2(28, 231, "(c) C 1", "s")
pc.text2(310, 233, "(g) O 1", "s", align="right")
pc.romans([("I", 73, 248), ("II", 78, 286), ("III", 107, 289), ("I", 247, 268), ("II", 278, 273)])
pc.legend([("Spectrum", rc1), ("Total fit", rc2)], 118, 243, **SPEC_LEG)

pd = Pair(14, 325, 314, 432, 25, 313, 332, 412, LC, RO, lticks=C1S_TICKS, rticks=O1S_TICKS, ftop=316)
rd1 = pd.line(D_SPEC_X, D_SPEC_Y, BLACK)
pd.line(D_II_X, D_II_Y, GREEN)
pd.line(D_I_X, D_I_Y, RED)
rd2 = pd.fit(D_FIT_X, D_FIT_Y)
pd.line(H_SPEC_X, H_SPEC_Y, BLACK, right=True)
pd.line(H_II_X, H_II_Y, GREEN, right=True)
pd.line(H_I_X, H_I_Y, RED, right=True)
pd.fit(H_FIT_X, H_FIT_Y, right=True)
pd.box(180, 329, "MWCNTs:SiO\u2082-NPs (Si-NPs=5.75 at%)", pad=(8, 3))
pd.text2(28, 337, "(d) C 1", "s")
pd.text2(310, 345, "(h) O 1", "s", align="right")
pd.romans([("I", 47, 353), ("II", 54, 395), ("I", 212, 372), ("II", 234, 387)])
pd.legend([("Spectrum", rd1), ("Total fit", rd2)], 105, 355, **SPEC_LEG)
pd.tick_labels(C1S_TICKS, O1S_TICKS)
xlab_l = text_fig(14, 325, 432, 454, 158, 444, "Binding Energy (eV)", SERIF, 17)

# ------------------------------------------------------------------ right column
pi_ = Pair(347, 627, 0, 118, 353, 623, 7, 100, (96.0, 108.1, 484), (142.3, 163.7, 489), split_top=True,
           lticks=SI2P_TICKS_I, rticks=SI2S_TICKS_I)
ri1 = pi_.line(I2P_MW_X, I2P_MW_Y, BLACK)
ri2 = pi_.line(I2P_GRID, I2P_S15_Y, RED, 1.3)
ri3 = pi_.line(I2P_S575_X, I2P_S575_Y, GREEN)
pi_.line(I2S_GRID, I2S_S15_Y, RED, 1.3, right=True)
pi_.line(I2S_S575_X, I2S_S575_Y, GREEN, right=True)
pi_.line(I2S_MW_X, I2S_MW_Y, BLACK, right=True)
pi_.text(358, 14, "(i)")
pi_.text2(399, 15, "Si 2", "p", size=11, align="center")
pi_.text2(559, 47, "Si 2", "s", size=11, align="center")
pi_.text(426, 15, "(", size=10, font=SERIF, align="center")
pi_.text(484, 13, "//", size=12, font=SERIF, style="bold italic", align="center")
pi_.text(485, 94, "//", size=12, font=SERIF, style="bold italic", align="center")
pi_.legend([("SiO\u2082-NPs) *0.15", ri1), ("Si-NPs(1.5 at%)", ri2), ("Si-NPs(5.75 at%)", ri3)],
           430, 10, 10, 9.5, SERIF, 27, 2)
pi_.tick_labels(SI2P_TICKS_I, SI2S_TICKS_I)

LP = (92.0, 113.0, 475)
RS = (140.0, 163.0, 493)

pj = Pair(347, 627, 118, 215, 353, 625, 131, 207, LP, RS, lticks=SI2P_TICKS, rticks=SI2S_TICKS, ftop=120)
rj1 = pj.line(J2P_SPEC_X, J2P_SPEC_Y, BLACK)
pj.line(J2P_I_X, J2P_I_Y, RED)
pj.line(J2P_II_X, J2P_II_Y, GREEN)
rj2 = pj.fit(J2P_FIT_X, J2P_FIT_Y)
pj.line(J2S_SPEC_X, J2S_SPEC_Y, BLACK, right=True)
pj.line(J2S_I_X, J2S_I_Y, RED, right=True)
pj.line(J2S_III_X, J2S_III_Y, MAGENTA, right=True)
pj.line(J2S_II_X, J2S_II_Y, GREEN, right=True)
pj.fit(J2S_FIT_X, J2S_FIT_Y, right=True)
pj.box(497, 135, "SiO\u2082-NPs", pad=(8, 3))
pj.text(356, 143, "(j)")
pj.text2(422, 143, "Si 2", "p", size=11, align="center")
pj.text2(588, 143, "Si 2", "s", size=11, align="center")
pj.romans([("I", 402, 160), ("II", 418, 168), ("I", 544, 189), ("II", 559, 175), ("III", 578, 188)])
pj.legend([("Spectrum", rj1), ("Total fit", rj2)], 460, 148, **SPEC_LEG)

pk = Pair(347, 627, 215, 320, 353, 625, 233, 309, LP, RS, lticks=SI2P_TICKS, rticks=SI2S_TICKS, ftop=216)
rk1 = pk.line(K2P_GRID, K2P_SPEC_Y, BLACK, 1.2)
pk.line(K2P_I_X, K2P_I_Y, RED)
pk.line(K2P_II_X, K2P_II_Y, GREEN)
rk2 = pk.fit(K2P_FIT_X, K2P_FIT_Y)
pk.line(K2S_GRID, K2S_SPEC_Y, BLACK, 1.2, right=True)
pk.line(K2S_III_X, K2S_III_Y, MAGENTA, right=True)
pk.line(K2S_I_X, K2S_I_Y, RED, right=True)
pk.line(K2S_II_X, K2S_II_Y, GREEN, right=True)
pk.fit(K2S_FIT_X, K2S_FIT_Y, right=True)
pk.box(486, 229, "MWCNTs:SiO\u2082-NPs (Si-NPs=1.5 at%)", pad=(10, 3))
pk.text(358, 243, "(k)")
pk.text2(396, 253, "Si 2", "p", size=11, align="center")
pk.text2(595, 247, "Si 2", "s", size=11, align="center")
pk.romans([("I", 400, 280), ("II", 410, 280), ("I", 549, 273), ("II", 573, 280), ("III", 596, 288)])
pk.legend([("Spectrum", rk1), ("Total fit", rk2)], 460, 247, **SPEC_LEG)

pl = Pair(347, 627, 320, 432, 353, 625, 343, 411, LP, RS, lticks=SI2P_TICKS, rticks=SI2S_TICKS, ftop=322)
rl1 = pl.line(L2P_SPEC_X, L2P_SPEC_Y, BLACK)
pl.line(L2P_II_X, L2P_II_Y, GREEN)
pl.line(L2P_I_X, L2P_I_Y, RED)
rl2 = pl.fit(L2P_FIT_X, L2P_FIT_Y)
pl.line(L2S_SPEC_X, L2S_SPEC_Y, BLACK, right=True)
pl.line(L2S_I_X, L2S_I_Y, RED, right=True)
pl.line(L2S_III_X, L2S_III_Y, MAGENTA, right=True)
pl.line(L2S_II_X, L2S_II_Y, GREEN, right=True)
pl.fit(L2S_FIT_X, L2S_FIT_Y, right=True)
pl.box(489, 335, "MWCNTs:SiO\u2082-NPs (Si-NPs=5.75 at%)", pad=(8, 3))
pl.text(356, 345, "(l)")
pl.text2(377, 363, "Si 2", "p", size=11, align="center")
pl.text2(583, 352, "Si 2", "s", size=11, align="center")
pl.romans([("I", 405, 360), ("II", 410, 383), ("I", 533, 397), ("II", 550, 383), ("III", 572, 392)])
pl.legend([("Spectrum", rl1), ("Total fit", rl2)], 455, 351, **SPEC_LEG)
pl.tick_labels(SI2P_TICKS, SI2S_TICKS)
xlab_r = text_fig(347, 627, 432, 454, 490, 444, "Binding Energy (eV)", SERIF, 17)

ylab_l = text_fig(0, 23, 0, 454, 11, 232, "Intensity (arb. unit)", SERIF, 17, angle=math.pi / 2,
                  margin=(0, -(X(23) - X(14)), 0, 0))
ylab_r = text_fig(325, 347, 0, 454, 338, 241, "Intensity (arb. unit)", SANS, 14, angle=math.pi / 2)

layout = row(ylab_l, column(pa.p, pb.p, pc.p, pd.p, xlab_l), ylab_r,
             column(pi_.p, pj.p, pk.p, pl.p, xlab_r))

open("out.html", "w").write(file_html(layout, INLINE))
